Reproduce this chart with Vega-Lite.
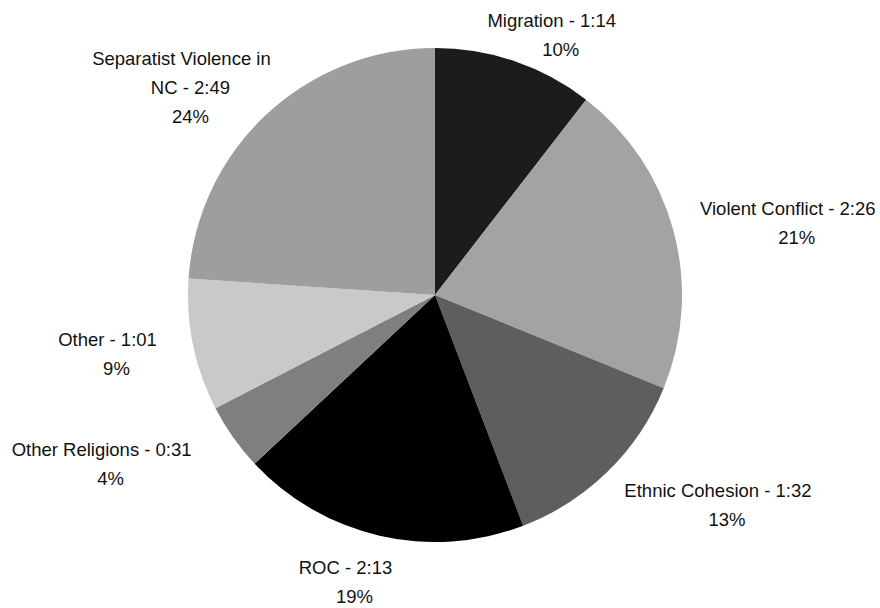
{
  "$schema": "https://vega.github.io/schema/vega-lite/v6.json",
  "width": 870,
  "height": 590,
  "autosize": {"type": "none"},
  "padding": {"left": 0, "top": 0, "right": 10, "bottom": 18},
  "background": "white",
  "view": {"stroke": null},
  "data": {
    "values": [
      {"order": 1, "category": "Migration", "seconds": 74, "name": "Migration - 1:14", "pct": "10%"},
      {"order": 2, "category": "Violent Conflict", "seconds": 146, "name": "Violent Conflict - 2:26", "pct": "21%"},
      {"order": 3, "category": "Ethnic Cohesion", "seconds": 92, "name": "Ethnic Cohesion - 1:32", "pct": "13%"},
      {"order": 4, "category": "ROC", "seconds": 133, "name": "ROC - 2:13", "pct": "19%"},
      {"order": 5, "category": "Other Religions", "seconds": 31, "name": "Other Religions - 0:31", "pct": "4%"},
      {"order": 6, "category": "Other", "seconds": 61, "name": "Other - 1:01", "pct": "9%"},
      {"order": 7, "category": "Separatist Violence in NC", "seconds": 169, "name": "Separatist Violence in\nNC - 2:49", "pct": "24%"}
    ]
  },
  "transform": [
    {"joinaggregate": [{"op": "sum", "field": "seconds", "as": "total"}]},
    {"window": [{"op": "sum", "field": "seconds", "as": "cum"}], "sort": [{"field": "order", "order": "ascending"}], "frame": [null, 0]},
    {"calculate": "2*PI*(datum.cum - datum.seconds/2)/datum.total", "as": "mid"},
    {"calculate": "length(split(datum.name, '\\n')) + 1", "as": "nl"},
    {"calculate": "indexof(datum.name, '\\n') >= 0 ? indexof(datum.name, '\\n') : length(datum.name)", "as": "n1"},
    {"calculate": "substring(datum.name, 0, datum.n1)", "as": "first"},
    {"calculate": "datum.n1 < length(datum.name) ? substring(datum.name, datum.n1 + 1) + '\\n' + datum.pct : datum.pct", "as": "rest"},
    {"calculate": "datum.n1 * 4.0", "as": "hw"},
    {"calculate": "cos(datum.mid) >= 0 ? min(1.0, max(-1.0, (sin(datum.mid) > 0 ? 1.42 : 1.15) * sin(datum.mid))) : min(1.07, max(-1.35, (sin(datum.mid) >= 0 ? 1 : -1) * (1.25 * abs(sin(datum.mid)) + 0.45 * abs(cos(datum.mid)))))", "as": "kx"},
    {"calculate": "cos(datum.mid) < 0 ? -cos(datum.mid) * 25 : -cos(datum.mid) * (sin(datum.mid) > 0 ? 4 : 13)", "as": "cy"}
  ],
  "encoding": {
    "theta": {"field": "seconds", "type": "quantitative", "stack": true},
    "order": {"field": "order", "type": "quantitative", "sort": "ascending"}
  },
  "layer": [
    {
      "mark": {"type": "arc", "outerRadius": 247},
      "encoding": {
        "color": {
          "field": "category",
          "type": "nominal",
          "scale": {
            "domain": ["Migration", "Violent Conflict", "Ethnic Cohesion", "ROC", "Other Religions", "Other", "Separatist Violence in NC"],
            "range": ["#1c1c1c", "#a3a3a3", "#5e5e5e", "#000000", "#7f7f7f", "#c9c9c9", "#9e9e9e"]
          },
          "legend": null
        }
      }
    },
    {
      "mark": {
        "type": "text",
        "radius": 270,
        "font": "Liberation Sans",
        "fontSize": 18.5,
        "align": "center",
        "baseline": "middle",
        "fill": "#111111",
        "dx": {"expr": "datum.kx * datum.hw"},
        "dy": {"expr": "datum.cy - (datum.nl - 1) * 14.5"}
      },
      "encoding": {
        "text": {"field": "first", "type": "nominal"},
        "detail": {"field": "category", "type": "nominal"}
      }
    },
    {
      "mark": {
        "type": "text",
        "radius": 270,
        "font": "Liberation Sans",
        "fontSize": 18.5,
        "lineHeight": 29,
        "lineBreak": "\n",
        "align": "center",
        "baseline": "middle",
        "fill": "#111111",
        "dx": {"expr": "datum.kx * datum.hw + 9"},
        "dy": {"expr": "datum.cy - (datum.nl - 1) * 14.5 + 29"}
      },
      "encoding": {
        "text": {"field": "rest", "type": "nominal"},
        "detail": {"field": "category", "type": "nominal"}
      }
    }
  ]
}
